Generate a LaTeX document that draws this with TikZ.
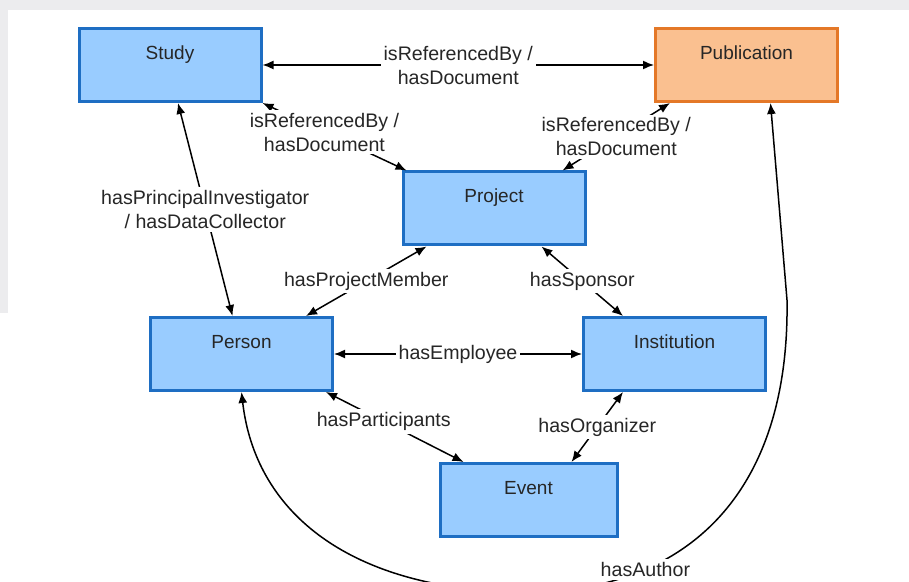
\documentclass[tikz,border=0pt]{standalone}
\usepackage{fontspec}
\setmainfont{Liberation Sans}
\usetikzlibrary{arrows.meta}
\definecolor{boxblue}{RGB}{153,204,255}
\definecolor{edgeblue}{RGB}{30,110,195}
\definecolor{boxorange}{RGB}{250,192,144}
\definecolor{edgeorange}{RGB}{228,120,40}
\definecolor{slidegray}{RGB}{236,236,238}
\tikzset{
	classbox/.style={draw=edgeblue, fill=boxblue, line width=1.5pt, inner sep=0pt, minimum width=91pt, text height=15.5pt, text depth=21pt, text=black!85, font=\fontsize{9.5}{12}\selectfont},
	pubbox/.style={classbox, draw=edgeorange, fill=boxorange},
	rel/.style={<->, >={Latex[length=5.5pt,width=4.5pt]}, line width=0.75pt},
	rellabel/.style={fill=white, inner sep=1.5pt, align=center, text=black!85, font=\fontsize{9.8}{12}\selectfont},
}

\begin{document}
\begin{tikzpicture}[x=0.5pt, y=-0.5pt]
			%%%%% START %%%%%
			
			\useasboundingbox (0,0) rectangle (909,582);
			\clip (0,0) rectangle (909,582);
			\fill[slidegray] (0,0) rectangle (909,10);
			\fill[slidegray] (0,0) rectangle (8,313);
			
			\node[classbox] (study) at (170,65) {Study};
			\node[pubbox] (publication) at (746.5,65) {Publication};
			\node[classbox] (project) at (494,208.5) {Project};
			\node[classbox] (person) at (241.5,354) {Person};
			\node[classbox] (institution) at (674.5,354) {Institution};
			\node[classbox, minimum width=88.5pt] (event) at (528.5,500) {Event};
			
			\draw[rel] (study.east) -- node[rellabel] {isReferencedBy /\\hasDocument} (publication.west);
			\draw[rel] (study.south east) -- node[rellabel, pos=0.43] {isReferencedBy /\\hasDocument} ([xshift=2.5pt]project.north west);
			\draw[rel] ([xshift=8pt]publication.south west) -- node[rellabel] {isReferencedBy /\\hasDocument} ([xshift=-12pt]project.north east);
			\draw[rel] ([xshift=4pt]study.south) -- node[rellabel] {hasPrincipalInvestigator\\/ hasDataCollector} ([xshift=-4.5pt]person.north);
			
			\draw[rel] ([xshift=12.5pt]project.south west) -- node[rellabel] {hasProjectMember} ([xshift=-14pt]person.north east);
			\draw[rel] ([xshift=-22.5pt]project.south east) -- node[rellabel] {hasSponsor} ([xshift=20.5pt]institution.north west);
			\draw[rel] (person.east) -- node[rellabel] {hasEmployee} (institution.west);
			
			\draw[rel] ([xshift=-4pt]person.south east) -- node[rellabel, pos=0.42] {hasParticipants} ([xshift=12.5pt]event.north west);
			\draw[rel] ([xshift=20.5pt]institution.south west) -- node[rellabel] {hasOrganizer} ([xshift=-23.5pt]event.north east);
			
			\draw[rel] ([xshift=12pt]publication.south) -- (787,300) .. controls (790,500) and (680,598) .. node[rellabel, pos=0.7] {hasAuthor} (510,592) .. controls (345,586) and (255,510) .. (person.south);
			
			%%%%% END %%%%%
\end{tikzpicture}
\end{document}
